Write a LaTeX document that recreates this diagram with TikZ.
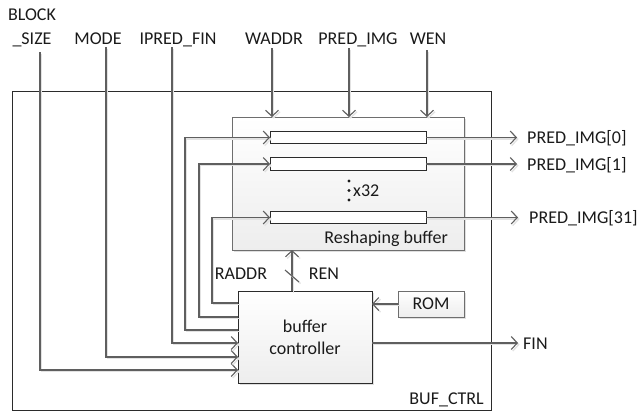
\documentclass[tikz,border=0pt]{standalone}
\usepackage{fontspec}
\setmainfont{Carlito}
\usetikzlibrary{arrows.meta,shadows}
\definecolor{linegray}{HTML}{5F5F5F}
\definecolor{shadowgray}{HTML}{E2E2E2}
\definecolor{outline}{HTML}{2B2B2B}
\definecolor{boxgray}{HTML}{6E6E6E}
\definecolor{txt}{HTML}{1A1A1A}
\begin{document}
\begin{tikzpicture}[x=1pt,y=-1pt,
  font=\fontsize{18}{22}\selectfont, text=txt,
  wire/.style={draw=linegray, line width=1.1pt,
    preaction={draw=shadowgray, line width=1.3pt, transform canvas={shift={(1.6pt,-1.6pt)}}}},
  arr/.style={wire, -{Straight Barb[length=6pt,width=13pt]}},
  box/.style={inner sep=0pt, outer sep=0pt, anchor=north west},
  panel/.style={box, draw=boxgray, line width=1pt, top color=white, bottom color=gray!14,
    drop shadow={shadow xshift=2pt, shadow yshift=-2pt, opacity=0.25}},
  barbox/.style={draw=outline, fill=white, line width=1pt, inner sep=0pt, outer sep=0pt,
    anchor=west, minimum width=156pt, minimum height=12.5pt},
  lab/.style={anchor=base, inner sep=0pt},
  labw/.style={anchor=base west, inner sep=0pt}]
\useasboundingbox (0,0) rectangle (639,413);

% outer block
\node[box, draw=outline, line width=1pt, minimum width=479pt, minimum height=319pt] (outer) at (12,91) {};
\node[anchor=base east, inner sep=0pt] (lbuf) at (484,404) {BUF\_CTRL};

% reshaping buffer
\node[panel, minimum width=232pt, minimum height=133pt] (rbuf) at (232,117) {};
\node[anchor=base east, inner sep=0pt] (lrb) at (448,243) {Reshaping buffer};

% controller and ROM
\node[panel, draw=outline, minimum width=134pt, minimum height=92pt, align=center] (ctrl) at (238,291) {buffer\\controller};
\node[panel, minimum width=66pt, minimum height=26pt] (rom) at (398,291) {ROM};

% top labels
\node[lab] (lblock) at (32,20) {BLOCK};
\node[lab] (lsize) at (32,44) {\_SIZE};
\node[lab] (lmode) at (98,44) {MODE};
\node[lab] (lipred) at (178,44) {IPRED\_FIN};
\node[lab] (lwaddr) at (274,44) {WADDR};
\node[lab] (lpred) at (358,44) {PRED\_IMG};
\node[lab] (lwen) at (428,44) {WEN};

\coordinate (sBS) at (40,52);
\coordinate (sMO) at (106,47);
\coordinate (sIP) at (172,47);
\coordinate (sWA) at (272,48);
\coordinate (sPI) at (349,48);
\coordinate (sWE) at (427,50);
\coordinate (cBS) at (238,370);
\coordinate (cMO) at (238,357);
\coordinate (cIP) at (238,343);

% inputs to controller
\draw[arr] (sBS) |- (cBS);
\draw[arr] (sMO) |- (cMO);
\draw[arr] (sIP) |- (cIP);

% inputs to reshaping buffer
\draw[arr] (sWA) -- (sWA |- rbuf.north);
\draw[arr] (sPI) -- (sPI |- rbuf.north);
\draw[arr] (sWE) -- (sWE |- rbuf.north);

% bars
\node[barbox] (bar0) at (270,137.5) {};
\node[barbox] (bar1) at (270,164) {};
\node[barbox] (bar31) at (270,217.5) {};

% RADDR lines
\coordinate (co0) at (238,330);
\coordinate (co1) at (238,317);
\coordinate (co2) at (238,303);
\draw[arr] (co0) -- ++(-53,0) |- (bar0.west);
\draw[arr] (co1) -- ++(-39,0) |- (bar1.west);
\draw[arr] (co2) -- ++(-26,0) |- (bar31.west);

% REN
\coordinate (renS) at (292,291);
\draw[arr] (renS) -- (renS |- rbuf.south);
\draw[wire] (285,270) -- (299,282);
\node[lab] (lraddr) at (241,279) {RADDR};
\node[lab] (lren) at (324,279) {REN};

% dots x32
\fill[txt] (349,181) circle (1.6pt) (349,190.5) circle (1.6pt) (349,200) circle (1.6pt);
\node[anchor=west, inner sep=0pt] (lx32) at (353,191) {x32};

% outputs
\coordinate (o0) at (517,137.5);
\coordinate (o1) at (517,164);
\coordinate (o31) at (518,217.5);
\draw[arr] (bar0.east) -- (o0);
\draw[arr] (bar1.east) -- (o1);
\draw[arr] (bar31.east) -- (o31);
\node[labw] (lo0) at (527,143.5) {PRED\_IMG[0]};
\node[labw] (lo1) at (527,170) {PRED\_IMG[1]};
\node[labw] (lo31) at (529,223.5) {PRED\_IMG[31]};

% ROM to controller
\draw[arr] (rom.west) -- (rom.west -| ctrl.east);

% FIN
\coordinate (fS) at (372,343);
\coordinate (fE) at (518,343);
\draw[arr] (fS) -- (fE);
\node[labw] (lfin) at (523,349) {FIN};
\end{tikzpicture}
\end{document}
